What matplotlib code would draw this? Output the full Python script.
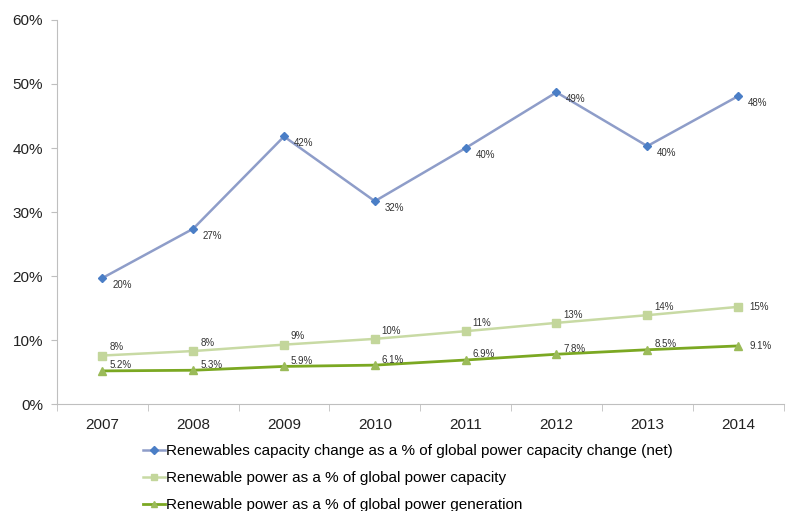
import matplotlib.pyplot as plt
from matplotlib.ticker import FixedLocator, NullFormatter

years = ["2007", "2008", "2009", "2010", "2011", "2012", "2013", "2014"]
cap_change = [19.7, 27.4, 41.8, 31.7, 40.0, 48.7, 40.3, 48.1]
cap_share = [7.6, 8.3, 9.3, 10.2, 11.4, 12.7, 13.9, 15.2]
gen_share = [5.2, 5.3, 5.9, 6.1, 6.9, 7.8, 8.5, 9.1]

cap_change_labels = ["20%", "27%", "42%", "32%", "40%", "49%", "40%", "48%"]
cap_share_labels = ["8%", "8%", "9%", "10%", "11%", "13%", "14%", "15%"]
gen_share_labels = ["5.2%", "5.3%", "5.9%", "6.1%", "6.9%", "7.8%", "8.5%", "9.1%"]

plt.rcParams['font.family'] = ['Liberation Sans', 'DejaVu Sans']

fig = plt.figure(figsize=(7.88, 5.11), dpi=100)
ax = fig.add_axes([0.0723, 0.209, 0.922, 0.752])

x = list(range(len(years)))

l1, = ax.plot(x, cap_change, color="#8E9DC9", lw=1.8, marker="D", ms=4.5,
              mfc="#4A7EC6", mec="#4A7EC6",
              label="Renewables capacity change as a % of global power capacity change (net)")
l2, = ax.plot(x, cap_share, color="#C8DAA4", lw=1.8, marker="s", ms=5.5,
              mfc="#C3D69B", mec="#C3D69B",
              label="Renewable power as a % of global power capacity")
l3, = ax.plot(x, gen_share, color="#7BA822", lw=2.0, marker="^", ms=5.5,
              mfc="#9BBB59", mec="#9BBB59",
              label="Renewable power as a % of global power generation")

lab_kw = dict(fontsize=7, color="#333333", textcoords="offset points")
last = len(years) - 1
for i in x:
    ax.annotate(cap_change_labels[i], (i, cap_change[i]), xytext=(7, -5),
                ha="left", va="center", **lab_kw)
    if i == last:
        ax.annotate(cap_share_labels[i], (i, cap_share[i]), xytext=(8, 0),
                    ha="left", va="center", **lab_kw)
        ax.annotate(gen_share_labels[i], (i, gen_share[i]), xytext=(8, 0),
                    ha="left", va="center", **lab_kw)
    else:
        ax.annotate(cap_share_labels[i], (i, cap_share[i]), xytext=(5, 6),
                    ha="left", va="center", **lab_kw)
        ax.annotate(gen_share_labels[i], (i, gen_share[i]), xytext=(5, 4),
                    ha="left", va="center", **lab_kw)

ax.set_xlim(-0.5, last + 0.5)
ax.set_ylim(0, 60)
ax.set_yticks(range(0, 61, 10))
ax.set_yticklabels([f"{v}%" for v in range(0, 61, 10)], fontsize=11, color="#222222")

ax.set_xticks(x)
ax.set_xticklabels(years, fontsize=11, color="#222222")
ax.tick_params(axis="x", which="major", length=0, pad=10)
ax.xaxis.set_minor_locator(FixedLocator([i - 0.5 for i in range(len(years) + 1)]))
ax.xaxis.set_minor_formatter(NullFormatter())
ax.tick_params(axis="x", which="minor", length=5, color="#BFBFBF")
ax.tick_params(axis="y", length=4, color="#BFBFBF", pad=6)

for side in ["top", "right"]:
    ax.spines[side].set_visible(False)
for side in ["left", "bottom"]:
    ax.spines[side].set_color("#BFBFBF")

fig.legend(handles=[l1, l2, l3], loc="upper left", bbox_to_anchor=(0.181, 0.131),
           frameon=False, fontsize=11, handlelength=1.45, handletextpad=0.1,
           labelspacing=0.85, borderaxespad=0, borderpad=0, markerscale=0.8)

fig.savefig("out.png", dpi=100)
